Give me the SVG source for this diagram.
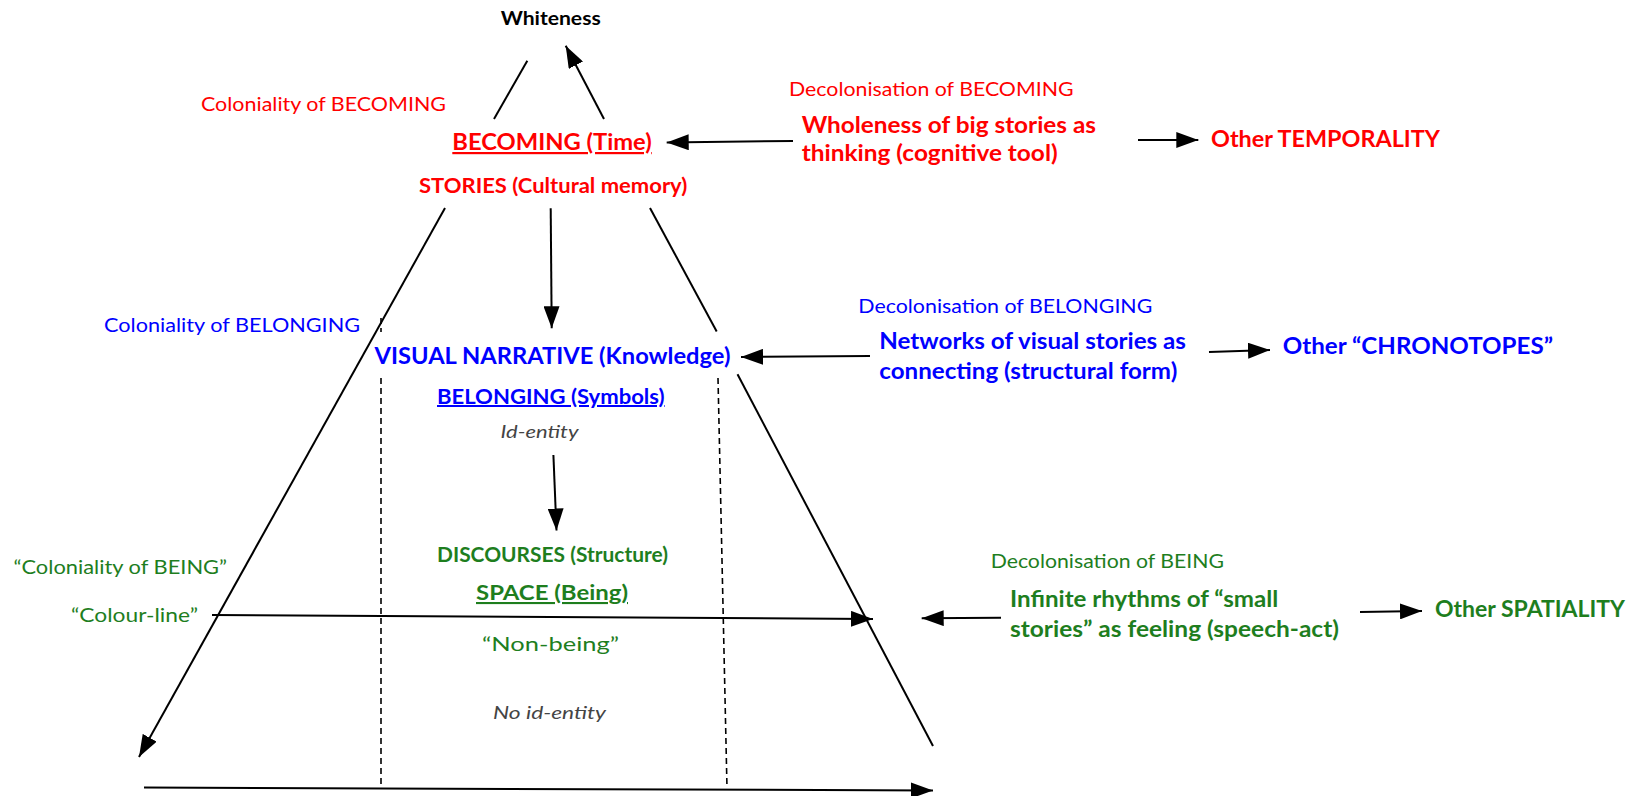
<svg xmlns="http://www.w3.org/2000/svg" width="1631" height="796" viewBox="0 0 1631 796">
<style>
text{font-family:Lato,"Liberation Sans",Arial,sans-serif}
.b{font-weight:700;font-size:22px}
.r{font-weight:400;font-size:18.5px}
.i{font-style:italic;font-size:17.5px;fill:#444}
.red{fill:#ff0000}
.blue{fill:#0000ff}
.green{fill:#1e7e1e}
.u{text-decoration:underline}
.ln{stroke:#000;stroke-width:2;fill:none}
.dash{stroke:#000;stroke-width:1.6;fill:none;stroke-dasharray:6 4}
</style>
<defs>
<marker id="ah" markerUnits="userSpaceOnUse" markerWidth="24" markerHeight="16" refX="22" refY="8" orient="auto">
<path d="M0,0 L22,8 L0,16 z" fill="#000"/>
</marker>
</defs>
<rect width="1631" height="796" fill="#fff"/>

<g id="connectors">
<line class="ln" x1="494" y1="119" x2="527.3" y2="60.7"/>
<line class="ln" x1="604" y1="119" x2="565.7" y2="45.7" marker-end="url(#ah)"/>
<line class="ln" x1="793" y1="141" x2="666.7" y2="142.5" marker-end="url(#ah)"/>
<line class="ln" x1="1138" y1="140" x2="1198.3" y2="140" marker-end="url(#ah)"/>
<line class="ln" x1="550.7" y1="208.3" x2="551.7" y2="328.3" marker-end="url(#ah)"/>
<line class="ln" x1="445" y1="208" x2="139" y2="757" marker-end="url(#ah)"/>
<line class="ln" x1="650" y1="208" x2="716.7" y2="331.5"/>
<line class="ln" x1="737.5" y1="374.3" x2="933" y2="746"/>
<line class="ln" x1="870" y1="356" x2="741" y2="357" marker-end="url(#ah)"/>
<line class="ln" x1="1209" y1="352" x2="1270" y2="350" marker-end="url(#ah)"/>
<line class="ln" x1="553.4" y1="455" x2="556.5" y2="530.5" marker-end="url(#ah)"/>
<line class="ln" x1="212" y1="615" x2="873" y2="619" marker-end="url(#ah)"/>
<line class="ln" x1="1001" y1="617.7" x2="921.7" y2="618.3" marker-end="url(#ah)"/>
<line class="ln" x1="1360" y1="612" x2="1422" y2="611" marker-end="url(#ah)"/>
<line class="ln" x1="144" y1="787.5" x2="933" y2="790.5" marker-end="url(#ah)"/>
<line class="dash" x1="381" y1="318" x2="381" y2="332"/>
<line class="dash" x1="381" y1="378" x2="381" y2="788"/>
<line class="dash" x1="718" y1="378" x2="727" y2="788"/>
</g>

<g id="whiteness"><text class="b" x="500.7" y="25" style="font-size:19px" textLength="100" lengthAdjust="spacingAndGlyphs">Whiteness</text></g>

<g id="coloniality-becoming"><text class="r red" x="201" y="110.5" textLength="245" lengthAdjust="spacingAndGlyphs">Coloniality of BECOMING</text></g>

<g id="becoming">
<text class="b red u" x="452.3" y="150" textLength="199.4" lengthAdjust="spacingAndGlyphs">BECOMING (Time)</text>
<text class="b red" x="419" y="193.3" style="font-size:21px" textLength="268.3" lengthAdjust="spacingAndGlyphs">STORIES (Cultural memory)</text>
</g>

<g id="decolonisation-becoming">
<text class="r red" x="789" y="96" textLength="284.5" lengthAdjust="spacingAndGlyphs">Decolonisation of BECOMING</text>
<text class="b red" x="801.7" y="132.7" textLength="294.3" lengthAdjust="spacingAndGlyphs">Wholeness of big stories as</text>
<text class="b red" x="801.7" y="160.7" textLength="256" lengthAdjust="spacingAndGlyphs">thinking (cognitive tool)</text>
</g>

<g id="other-temporality"><text class="b red" x="1211" y="146.7" textLength="229" lengthAdjust="spacingAndGlyphs">Other TEMPORALITY</text></g>

<g id="coloniality-belonging"><text class="r blue" x="104" y="332" textLength="256" lengthAdjust="spacingAndGlyphs">Coloniality of BELONGING</text></g>

<g id="belonging">
<text class="b blue" x="374.5" y="364" textLength="356" lengthAdjust="spacingAndGlyphs">VISUAL NARRATIVE (Knowledge)</text>
<text class="b blue u" x="437" y="404" style="font-size:20px" textLength="227.6" lengthAdjust="spacingAndGlyphs">BELONGING (Symbols)</text>
<text class="i" x="500.5" y="438" textLength="78" lengthAdjust="spacingAndGlyphs">Id-entity</text>
</g>

<g id="decolonisation-belonging">
<text class="r blue" x="858.3" y="312.7" textLength="294" lengthAdjust="spacingAndGlyphs">Decolonisation of BELONGING</text>
<text class="b blue" x="879.3" y="349" textLength="306.7" lengthAdjust="spacingAndGlyphs">Networks of visual stories as</text>
<text class="b blue" x="879.3" y="379.3" textLength="298" lengthAdjust="spacingAndGlyphs">connecting (structural form)</text>
</g>

<g id="other-chronotopes"><text class="b blue" x="1282.7" y="354" textLength="270.3" lengthAdjust="spacingAndGlyphs">Other “CHRONOTOPES”</text></g>

<g id="coloniality-being">
<text class="r green" x="13.5" y="574" textLength="213.5" lengthAdjust="spacingAndGlyphs">“Coloniality of BEING”</text>
<text class="r green" x="71" y="622" textLength="127" lengthAdjust="spacingAndGlyphs">“Colour-line”</text>
</g>

<g id="being">
<text class="b green" x="437" y="562" style="font-size:20px" textLength="231" lengthAdjust="spacingAndGlyphs">DISCOURSES (Structure)</text>
<text class="b green u" x="476" y="600" style="font-size:21px" textLength="152" lengthAdjust="spacingAndGlyphs">SPACE (Being)</text>
<text class="r green" x="482" y="651" style="font-size:19.5px" textLength="137" lengthAdjust="spacingAndGlyphs">“Non-being”</text>
<text class="i" x="493" y="719" textLength="113" lengthAdjust="spacingAndGlyphs">No id-entity</text>
</g>

<g id="decolonisation-being">
<text class="r green" x="990.7" y="568.3" textLength="233.3" lengthAdjust="spacingAndGlyphs">Decolonisation of BEING</text>
<text class="b green" x="1010" y="606.7" textLength="268.3" lengthAdjust="spacingAndGlyphs">Infinite rhythms of “small</text>
<text class="b green" x="1010" y="637.3" textLength="329" lengthAdjust="spacingAndGlyphs">stories” as feeling (speech-act)</text>
</g>

<g id="other-spatiality"><text class="b green" x="1435" y="616.5" textLength="190" lengthAdjust="spacingAndGlyphs">Other SPATIALITY</text></g>
</svg>
